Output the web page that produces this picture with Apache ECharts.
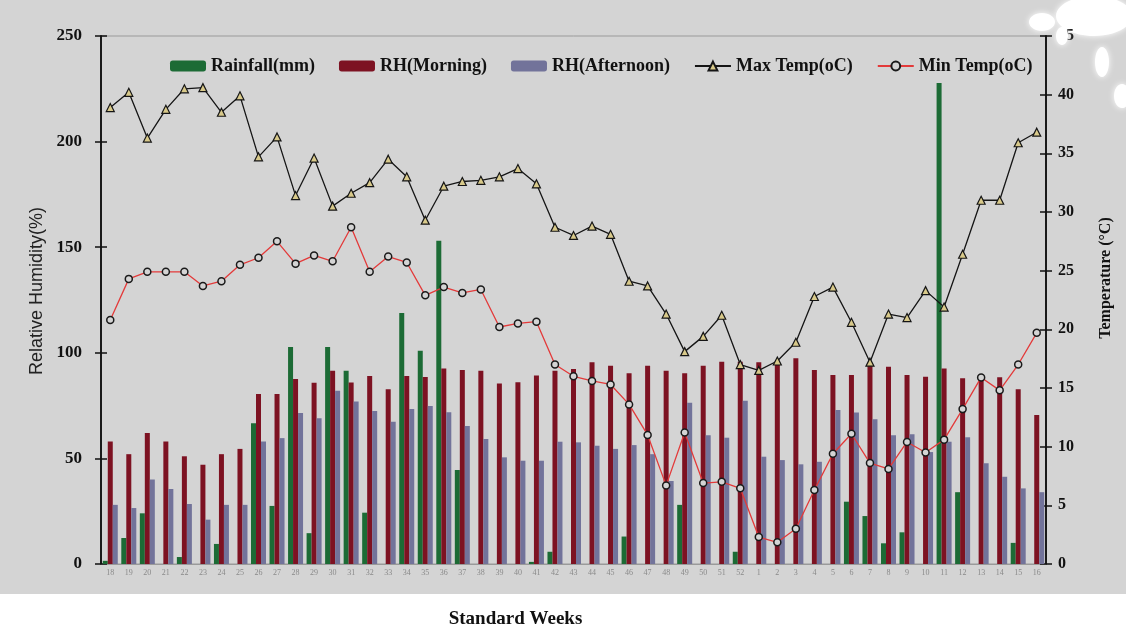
<!DOCTYPE html>
<html>
<head>
<meta charset="utf-8">
<title>Weekly weather: rainfall, relative humidity and temperature</title>
<script src="https://cdn.jsdelivr.net/npm/echarts@6/dist/echarts.min.js"></script>
<style>
  html, body { margin: 0; padding: 0; background: #ffffff; }
  #chart { width: 1126px; height: 630px; }
</style>
</head>
<body>
<div id="chart"></div>
<script>
// Standard meteorological weeks (18 to 52, then 1 to 16 of the next year)
const weeks = ['18','19','20','21','22','23','24','25','26','27','28','29','30','31','32','33','34','35',
  '36','37','38','39','40','41','42','43','44','45','46','47','48','49','50','51','52',
  '1','2','3','4','5','6','7','8','9','10','11','12','13','14','15','16'];

// Weekly rainfall (mm)
const rainfall = [1.5, 12.3, 24, 0, 3.3, 0, 9.5, 0, 66.7, 27.5, 102.7, 14.6, 102.7, 91.5, 24.3, 0, 118.8, 101,
  153, 44.5, 0, 0, 0, 1, 5.8, 0, 0, 0, 13, 0, 0, 28, 0, 0, 5.8,
  0, 0, 0, 0, 0, 29.5, 22.7, 9.8, 15, 0, 227.7, 34, 0, 0, 10, 0];

// Relative humidity, morning (%)
const rhMorning = [58, 52, 62, 58, 51, 47, 52, 54.5, 80.5, 80.5, 87.6, 85.8, 91.5, 85.9, 89, 82.8, 89, 88.5,
  92.6, 91.9, 91.5, 85.5, 86, 89.2, 91.5, 92.3, 95.5, 93.9, 90.3, 93.9, 91.5, 90.3, 93.9, 95.8, 95.8,
  95.5, 95.3, 97.4, 91.9, 89.5, 89.5, 94.2, 93.4, 89.5, 88.7, 92.6, 87.9, 87.9, 88.4, 82.7, 70.5];

// Relative humidity, afternoon (%)
const rhAfternoon = [28, 26.5, 40, 35.5, 28.4, 21, 28, 28, 58, 59.6, 71.5, 69, 82, 77, 72.4, 67.4, 73.4, 74.8,
  71.8, 65.3, 59.2, 50.5, 48.9, 48.9, 57.9, 57.6, 56, 54.5, 56.3, 52, 39.3, 76.4, 61, 59.8, 77.3,
  50.8, 49.2, 47.2, 48.4, 72.9, 71.7, 68.5, 61, 61.4, 53, 57.9, 60, 47.7, 41.3, 35.8, 34];

// Maximum temperature (°C)
const maxTemp = [38.9, 40.2, 36.3, 38.75, 40.5, 40.6, 38.5, 39.9, 34.7, 36.4, 31.4, 34.6, 30.5, 31.6, 32.5, 34.5, 33.0, 29.3,
  32.2, 32.6, 32.7, 33.0, 33.7, 32.4, 28.7, 28.0, 28.8, 28.1, 24.1, 23.7, 21.3, 18.1, 19.4, 21.2, 17.0,
  16.5, 17.3, 18.9, 22.8, 23.6, 20.6, 17.2, 21.3, 21.0, 23.3, 21.9, 26.4, 31.0, 31.0, 35.9, 36.8];

// Minimum temperature (°C)
const minTemp = [20.8, 24.3, 24.9, 24.9, 24.9, 23.7, 24.1, 25.5, 26.1, 27.5, 25.6, 26.3, 25.8, 28.7, 24.9, 26.2, 25.7, 22.9,
  23.6, 23.1, 23.4, 20.2, 20.5, 20.65, 17.0, 16.0, 15.6, 15.3, 13.6, 11.0, 6.7, 11.2, 6.9, 7.0, 6.45,
  2.3, 1.85, 3.0, 6.3, 9.4, 11.1, 8.6, 8.1, 10.4, 9.5, 10.6, 13.2, 15.9, 14.8, 17.0, 19.7];

const serif = '"Liberation Serif", "Times New Roman", serif';
const sans = '"Liberation Sans", Arial, sans-serif';

const chart = echarts.init(document.getElementById('chart'), null, { renderer: 'canvas' });

function valueAxis(pos, max, interval, withLabels, inside) {
  return {
    type: 'value',
    position: pos,
    min: 0,
    max: max,
    interval: interval,
    axisLine: { show: true, lineStyle: { color: '#111', width: 1.5 } },
    axisTick: { show: true, inside: inside, length: 6, lineStyle: { color: '#111', width: 1.5 } },
    axisLabel: {
      show: withLabels,
      margin: pos === 'left' ? 19 : 12,
      fontFamily: serif, fontWeight: 'bold', fontSize: pos === 'left' ? 17 : 16, color: '#111'
    },
    splitLine: { show: false }
  };
}

const leftAxis = valueAxis('left', 250, 50, true, false);
leftAxis.name = 'Relative Humidity(%)';
leftAxis.nameLocation = 'middle';
leftAxis.nameGap = 50;
leftAxis.nameTextStyle = { fontFamily: sans, fontSize: 18, color: '#222', padding: [0, 0, 0, 18] };

const rightAxis = valueAxis('right', 45, 5, true, false);
rightAxis.name = 'Temperature (°C)';
rightAxis.nameLocation = 'middle';
rightAxis.nameGap = 52;
rightAxis.nameRotate = 90;
rightAxis.nameTextStyle = { fontFamily: serif, fontWeight: 'bold', fontSize: 16, color: '#111', padding: [0, 0, 0, 44] };

const blotch = { fill: '#ffffff', shadowBlur: 6, shadowColor: '#ffffff' };

chart.setOption({
  backgroundColor: '#d4d4d4',
  animation: false,
  grid: {
    left: 101, right: 80, top: 36, bottom: 66,
    outerBoundsMode: 'none',
    show: true, borderColor: '#9a9a9a', borderWidth: 1, backgroundColor: 'transparent'
  },
  legend: {
    left: 165,
    top: 52,
    itemGap: 24,
    itemWidth: 36,
    itemHeight: 11,
    textStyle: { fontFamily: serif, fontWeight: 'bold', fontSize: 18, color: '#111' },
    data: ['Rainfall(mm)', 'RH(Morning)', 'RH(Afternoon)', 'Max Temp(oC)', 'Min Temp(oC)']
  },
  xAxis: {
    type: 'category',
    data: weeks,
    boundaryGap: true,
    name: 'Standard Weeks',
    nameLocation: 'middle',
    nameGap: 46,
    nameTextStyle: { fontFamily: serif, fontWeight: 'bold', fontSize: 19, color: '#111', padding: [0, 116, 0, 0] },
    axisLine: { show: true, lineStyle: { color: '#9a9a9a', width: 1 } },
    axisTick: { show: false },
    axisLabel: { interval: 0, fontFamily: serif, fontSize: 8, color: '#8a8a8a', margin: 5 }
  },
  yAxis: [
    leftAxis,
    rightAxis,
    valueAxis('left', 250, 50, false, true),
    valueAxis('right', 45, 5, false, true)
  ],
  series: [
    {
      name: 'Rainfall(mm)', type: 'bar', yAxisIndex: 0, data: rainfall,
      barWidth: 5, barGap: '0%',
      itemStyle: { color: '#1c6b35' }
    },
    {
      name: 'RH(Morning)', type: 'bar', yAxisIndex: 0, data: rhMorning,
      barWidth: 5, barGap: '0%',
      itemStyle: { color: '#7d1222' }
    },
    {
      name: 'RH(Afternoon)', type: 'bar', yAxisIndex: 0, data: rhAfternoon,
      barWidth: 5, barGap: '0%',
      itemStyle: { color: '#72739a' }
    },
    {
      name: 'Max Temp(oC)', type: 'line', yAxisIndex: 1, data: maxTemp,
      symbol: 'triangle', symbolSize: 8,
      lineStyle: { color: '#151515', width: 1.3 },
      itemStyle: { color: '#d8c98a', borderColor: '#151515', borderWidth: 1.2 },
      z: 4
    },
    {
      name: 'Min Temp(oC)', type: 'line', yAxisIndex: 1, data: minTemp,
      symbol: 'circle', symbolSize: 7,
      lineStyle: { color: '#e33a3a', width: 1.3 },
      itemStyle: { color: '#d4d4d4', borderColor: '#1a1a1a', borderWidth: 1.5 },
      z: 4
    }
  ],
  graphic: [
    // white page margin beneath the grey panel
    { type: 'rect', z: -10, silent: true, shape: { x: 0, y: 594, width: 1126, height: 36 }, style: { fill: '#ffffff' } },
    // pale blotches on the top-right corner of the sheet (behind the axis)
    { type: 'ellipse', z: -5, silent: true, shape: { cx: 1094, cy: 16, rx: 38, ry: 20 }, style: blotch },
    { type: 'ellipse', z: -5, silent: true, shape: { cx: 1042, cy: 22, rx: 13, ry: 9 }, style: blotch },
    { type: 'ellipse', z: -5, silent: true, shape: { cx: 1102, cy: 62, rx: 7, ry: 15 }, style: blotch },
    { type: 'ellipse', z: -5, silent: true, shape: { cx: 1122, cy: 96, rx: 8, ry: 12 }, style: blotch },
    // blotch that masks the first digit of the top temperature label
    { type: 'ellipse', z: 100, silent: true, shape: { cx: 1062, cy: 36, rx: 6, ry: 9 }, style: blotch }
  ]
});
</script>
</body>
</html>
